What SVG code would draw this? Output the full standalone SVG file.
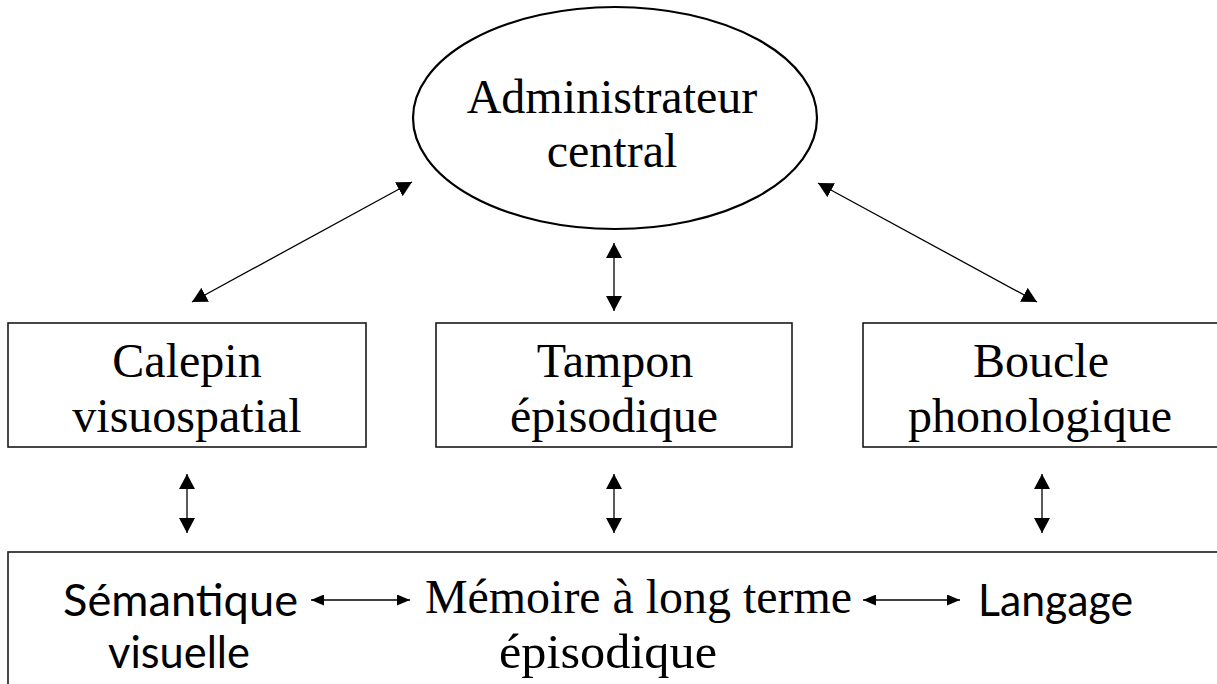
<svg xmlns="http://www.w3.org/2000/svg" width="1217" height="684" viewBox="0 0 1217 684">
  <style>
    .serif { font-family: "Liberation Serif", "Times New Roman", serif; fill: #000; }
    .sans { font-family: Lato, "Noto Sans", sans-serif; fill: #000; }
    .box { fill: #fff; stroke: #1a1a1a; stroke-width: 1.6; }
    .link { stroke: #000; stroke-width: 1.3; fill: none; }
    .big { marker-start: url(#head); marker-end: url(#head); }
    .small { marker-start: url(#headSmall); marker-end: url(#headSmall); }
  </style>
  <defs>
    <marker id="head" viewBox="0 0 15 16" refX="15" refY="8" markerWidth="15" markerHeight="16" markerUnits="userSpaceOnUse" orient="auto-start-reverse">
      <path d="M0,0 L15,8 L0,16 z" fill="#000"/>
    </marker>
    <marker id="headSmall" viewBox="0 0 13 11" refX="13" refY="5.5" markerWidth="13" markerHeight="11" markerUnits="userSpaceOnUse" orient="auto-start-reverse">
      <path d="M0,0 L13,5.5 L0,11 z" fill="#000"/>
    </marker>
  </defs>

  <rect width="1217" height="684" fill="#fff"/>

  <!-- central executive -->
  <g id="administrateur">
    <ellipse cx="615" cy="118" rx="202" ry="111" fill="#fff" stroke="#000" stroke-width="2.2"/>
    <text class="serif" font-size="48" text-anchor="middle" x="612" y="113">Administrateur</text>
    <text class="serif" font-size="48" text-anchor="middle" x="612" y="167">central</text>
  </g>

  <!-- slave systems -->
  <g id="calepin">
    <rect class="box" x="8" y="323" width="358" height="124"/>
    <text class="serif" font-size="48" text-anchor="middle" x="187" y="377">Calepin</text>
    <text class="serif" font-size="48" text-anchor="middle" x="187" y="432">visuospatial</text>
  </g>
  <g id="tampon">
    <rect class="box" x="436" y="323" width="356" height="124"/>
    <text class="serif" font-size="48" text-anchor="middle" x="615" y="377">Tampon</text>
    <text class="serif" font-size="48" text-anchor="middle" x="614" y="432">épisodique</text>
  </g>
  <g id="boucle">
    <rect class="box" x="863" y="323" width="380" height="124"/>
    <text class="serif" font-size="48" text-anchor="middle" x="1041" y="377">Boucle</text>
    <text class="serif" font-size="48" text-anchor="middle" x="1040" y="432">phonologique</text>
  </g>

  <!-- long-term memory -->
  <g id="memoire-long-terme">
    <rect class="box" x="8" y="552" width="1240" height="160"/>
    <text class="serif" font-size="48" x="425" y="613" textLength="427" lengthAdjust="spacingAndGlyphs">Mémoire à long terme</text>
    <text class="serif" font-size="48" text-anchor="middle" x="608" y="668" textLength="218" lengthAdjust="spacingAndGlyphs">épisodique</text>
  </g>
  <g id="semantique">
    <text class="sans" font-size="45" x="63" y="616" textLength="235" lengthAdjust="spacingAndGlyphs">Sémantique</text>
    <text class="sans" font-size="45" x="108" y="668" textLength="142" lengthAdjust="spacingAndGlyphs">visuelle</text>
  </g>
  <g id="langage">
    <text class="sans" font-size="45" x="978" y="616" textLength="155" lengthAdjust="spacingAndGlyphs">Langage</text>
  </g>

  <!-- connectors -->
  <g id="connectors">
    <line class="link big" x1="192" y1="302" x2="412" y2="182"/>
    <line class="link big" x1="818" y1="183" x2="1037" y2="302"/>
    <line class="link big" x1="614" y1="243" x2="614" y2="311"/>
    <line class="link big" x1="187" y1="474" x2="187" y2="533"/>
    <line class="link big" x1="614" y1="474" x2="614" y2="533"/>
    <line class="link big" x1="1042" y1="474" x2="1042" y2="533"/>
    <line class="link small" x1="311" y1="600" x2="410" y2="600"/>
    <line class="link small" x1="863" y1="600" x2="960" y2="600"/>
  </g>
</svg>
